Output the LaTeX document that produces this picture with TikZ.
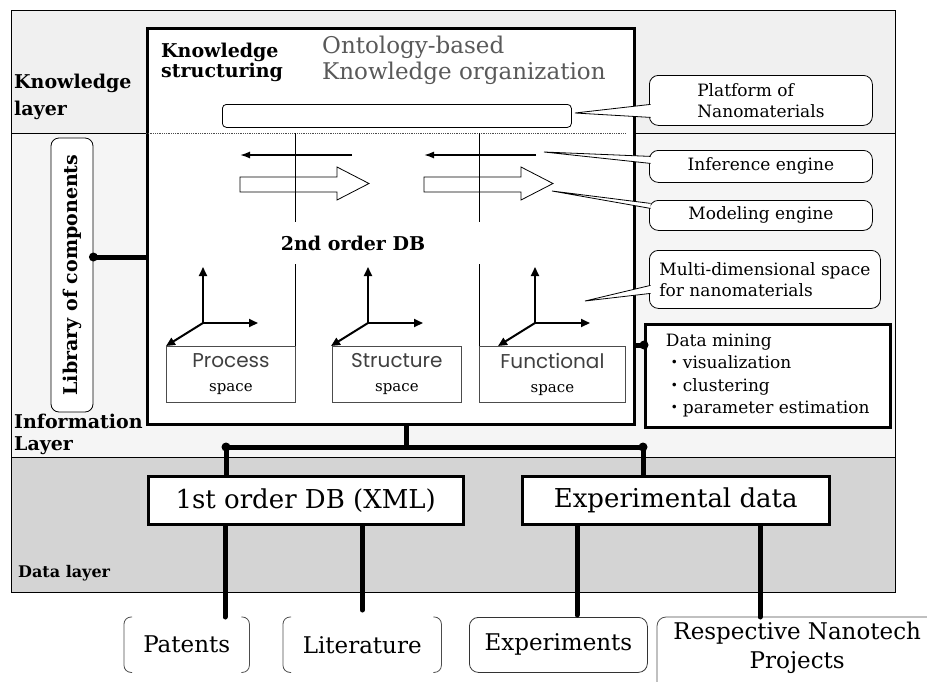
\documentclass[tikz,border=0pt]{standalone}
\usepackage{fontspec}
\setmainfont{DejaVu Serif}
\newfontfamily\gothic{Poppins}
\newfontfamily\cjk{Noto Sans CJK JP}
\usetikzlibrary{arrows.meta}

\begin{document}
\begin{tikzpicture}[x=1pt,y=-1pt,
    band/.style={draw,line width=1pt},
    heavy/.style={draw,line width=3pt,fill=white,anchor=north west,inner sep=0pt},
    bus/.style={line width=5pt,line cap=round},
    callout/.style={draw,line width=0.8pt,fill=white,rounded corners=9pt,anchor=north west,
      inner sep=2pt,align=left,font=\fontsize{17}{21}\selectfont},
    space-box/.style={draw=black!70,line width=0.8pt,fill=white,minimum height=56pt,
      anchor=north west,inner sep=0pt,align=center,font=\fontsize{15}{24}\selectfont},
    axis-arrow/.style={line width=2pt,-{Triangle[length=9pt,width=8pt]}},
    layer-name/.style={font=\bfseries\fontsize{19}{27}\selectfont,align=left,anchor=west,inner sep=0pt},
    source/.style={anchor=north west,minimum height=55pt,inner sep=0pt,font=\fontsize{23}{28}\selectfont},
  ]
  \useasboundingbox (0,0) rectangle (927,681);

  % layers
  \draw[band,fill=black!6]  (11,10)  rectangle (895,133);
  \draw[band,fill=black!4]  (11,133) rectangle (895,457);
  \draw[band,fill=black!17] (11,457) rectangle (895,592);
  \node (know-layer) [layer-name] at (14,97) {Knowledge\\layer};
  \node (info-layer) [layer-name,font=\bfseries\fontsize{19}{22}\selectfont] at (14,434) {Information\\Layer};
  \node (data-layer) [layer-name,font=\bfseries\fontsize{16}{20}\selectfont] at (18,573) {Data layer};

  % 2nd order DB
  \node (db2) [heavy,minimum width=487pt,minimum height=396pt] at (146,27) {};
  \draw[densely dotted,line width=0.8pt,black!70] (db2.west |- 0,133) -- (626,133);
  \node (structuring) [layer-name,font=\bfseries\fontsize{19}{20}\selectfont] at (161,62) {Knowledge\\structuring};
  \node (ontology) [anchor=west,inner sep=0pt,align=left,text=black!65,
    font=\fontsize{23}{26}\selectfont] at (322,60) {Ontology-based\\Knowledge organization};
  \node (platform-bar) [draw,line width=0.8pt,rounded corners=4pt,anchor=north west,
    minimum width=349pt,minimum height=23pt,inner sep=0pt] at (222,104) {};

  \foreach \x/\h in {240/337,424/521} {
    \draw[line width=1.6pt,-{Latex[length=10pt,width=7pt]}] (\x+112,155) -- (\x,155);
    \draw[line width=0.8pt] (\x,177) -- (\h,177) -- (\h,167) -- (\h+32,183.5)
      -- (\h,200) -- (\h,192) -- (\x,192) -- cycle;
  }
  \foreach \x in {295,479} {
    \draw[line width=0.8pt] (\x,133) -- (\x,222);
    \draw[line width=0.8pt] (\x,264) -- (\x,402);
  }
  \node (db2-title) [font=\bfseries\fontsize{19}{23}\selectfont] at (353,243) {2nd order DB};

  \node (process) [space-box,minimum width=129pt] at (166,346)
    {{\gothic\color{black!75}\fontsize{20}{24}\selectfont Process}\\space};
  \node (structure) [space-box,minimum width=129pt] at (332,346)
    {{\gothic\color{black!75}\fontsize{20}{24}\selectfont Structure}\\space};
  \node (functional) [space-box,minimum width=146pt] at (479,346)
    {{\gothic\color{black!75}\fontsize{20}{24}\selectfont Functional}\\space};
  \foreach \ox in {203,368,535} {
    \draw[axis-arrow] (\ox,323) -- (\ox,267);
    \draw[axis-arrow] (\ox,323) -- (\ox+55,323);
    \draw[axis-arrow] (\ox,323) -- (\ox-37,346);
  }

  % library and data mining
  \node (library) [draw,line width=0.8pt,fill=white,rounded corners=8pt,rotate=90,
    minimum width=274pt,minimum height=42pt,inner sep=0pt,
    font=\bfseries\fontsize{19}{23}\selectfont] at (72,275) {Library of components};
  \draw[bus] (library.south |- 0,257) -- (db2.west |- 0,257);
  \fill (library.south |- 0,257) circle (4.5pt);

  \node (mining) [heavy,line width=2.5pt,minimum width=245pt,minimum height=103pt,align=left,
    font=\fontsize{17}{22.5}\selectfont] at (644,323)
    {Data mining\\{\cjk ・}visualization\\{\cjk ・}clustering\\{\cjk ・}parameter estimation};
  \draw[bus] (db2.east |- 0,345) -- (mining.west |- 0,345);
  \fill (mining.west |- 0,345) circle (4.5pt);

  % callouts
  \node (platform)  [callout,minimum width=223pt,minimum height=50pt] at (649,75) {Platform of\\Nanomaterials};
  \node (inference) [callout,minimum width=223pt,minimum height=32pt] at (649,150) {Inference engine};
  \node (modeling)  [callout,minimum width=223pt,minimum height=30pt] at (649,200) {Modeling engine};
  \node (multidim)  [callout,minimum width=231pt,minimum height=58pt] at (649,250) {Multi-dimensional space\\for nanomaterials};
  \foreach \n/\tx/\ty/\ya/\yb in {platform/575/113/-4/-17,inference/544/152/10/3,
      modeling/552/191/12/7,multidim/585/301/-6/-14} {
    \coordinate (\n-tip) at (\tx,\ty);
    \fill[white] ([xshift=1.5pt,yshift=\ya pt]\n.west) -- (\n-tip) -- ([xshift=1.5pt,yshift=\yb pt]\n.west) -- cycle;
    \draw[line width=0.8pt] ([xshift=1.5pt,yshift=\ya pt]\n.west) -- (\n-tip) -- ([xshift=1.5pt,yshift=\yb pt]\n.west);
  }

  % data layer
  \node (db1) [heavy,line width=2.5pt,minimum width=315pt,minimum height=48pt,
    font=\fontsize{26}{30}\selectfont] at (147,475) {1st order DB (XML)};
  \node (expdata) [heavy,line width=2.5pt,minimum width=307pt,minimum height=48pt,
    font=\fontsize{26}{30}\selectfont] at (521,475) {Experimental data};
  \coordinate (bus-l) at (226,447);
  \coordinate (bus-r) at (643,447);
  \draw[bus] (bus-l) -- (bus-r);
  \draw[bus] (db2.south -| 406,0) -- (406,447);
  \draw[bus] (bus-l) -- (bus-l |- db1.north);
  \draw[bus] (bus-r) -- (bus-r |- expdata.north);
  \fill (bus-l) circle (4.5pt);
  \fill (bus-r) circle (4.5pt);

  % sources
  \node (patents)     [source,minimum width=125pt] at (124,617) {Patents};
  \node (literature)  [source,minimum width=158pt] at (283,617) {Literature};
  \node (experiments) [source,minimum width=178pt,draw=black!80,line width=0.8pt,rounded corners=9pt] at (469,617) {Experiments};
  \node (respective)  [source,minimum width=280pt,minimum height=62pt,align=center,
    font=\fontsize{23}{29}\selectfont] at (657,617) {Respective Nanotech\\Projects};
  \draw[black!70,line width=0.8pt,rounded corners=9pt] ([xshift=20pt]respective.north east)
    -- (respective.north west) -- ([yshift=-10pt]respective.south west);
  \foreach \n in {patents,literature} {
    \draw[black!70,line width=0.8pt,rounded corners=7pt] ([xshift=8pt]\n.north west)
      -- (\n.north west) -- (\n.south west) -- ([xshift=8pt]\n.south west);
    \draw[black!70,line width=0.8pt,rounded corners=7pt] ([xshift=-8pt]\n.north east)
      -- (\n.north east) -- (\n.south east) -- ([xshift=-8pt]\n.south east);
  }
  \draw[bus] (225,0 |- db1.south) -- (225,0 |- patents.north);
  \draw[bus] (db1.south -| literature.north) -- ([yshift=7pt]literature.north);
  \draw[bus] (577,0 |- expdata.south) -- ([yshift=2pt]577,0 |- experiments.north);
  \draw[bus] (760,0 |- expdata.south) -- (760,0 |- respective.north);
\end{tikzpicture}
\end{document}
